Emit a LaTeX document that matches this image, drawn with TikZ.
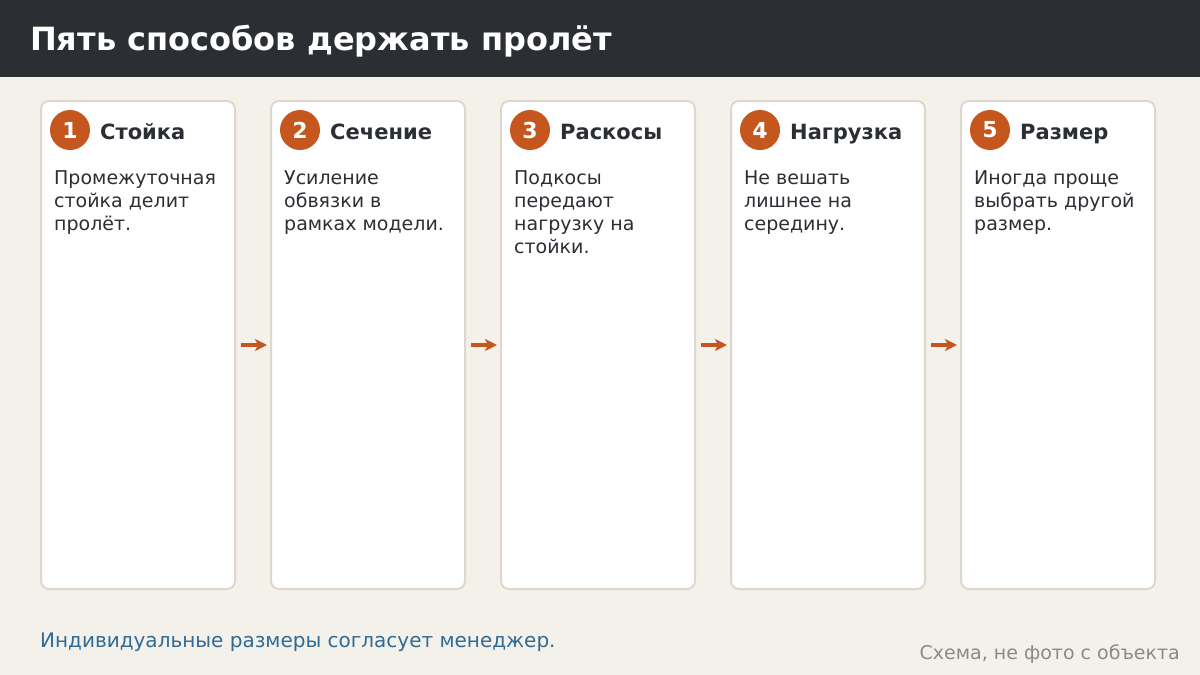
\documentclass[tikz,border=0pt]{standalone}
\usepackage{fontspec}
\setmainfont{DejaVu Sans}
\usepackage{tikz}
\usetikzlibrary{arrows.meta}
\definecolor{paper}{HTML}{F4F1EA}
\definecolor{ink}{HTML}{2B2E33}
\definecolor{rust}{HTML}{C4561E}
\definecolor{edge}{HTML}{DDD8CF}
\definecolor{note}{HTML}{2E6B98}
\definecolor{mute}{HTML}{8A8A8A}

\begin{document}
\begin{tikzpicture}[x=1pt,y=-1pt,
	card/.style={draw=edge, line width=2pt, fill=white, rounded corners=8pt, minimum width=194pt, minimum height=488pt, inner sep=0pt},
	badge/.style={circle, fill=rust, minimum size=40pt, inner sep=0pt, text=white, font=\fontsize{22}{22}\selectfont\bfseries},
	head/.style={anchor=base west, inner sep=0pt, text=ink, font=\fontsize{21}{21}\selectfont\bfseries},
	body/.style={anchor=north west, inner sep=0pt, align=left, text=ink, font=\fontsize{19}{23}\selectfont},
	flow/.style={draw=rust, line width=3.5pt, -{Stealth[length=12pt,width=12pt,inset=3pt]}, shorten <=5pt, shorten >=3pt}]
% page and header bar
\useasboundingbox (0,0) rectangle (1200,675);
\fill[paper] (0,0) rectangle (1200,675);
\fill[ink] (0,0) rectangle (1200,77);
\node[anchor=base west, inner sep=0pt, text=white, font=\fontsize{32}{32}\selectfont\bfseries] (title) at (30,50) {Пять способов держать пролёт};

% draw cards
\node[card] (c1) at (138,345) {};
\node[card] (c2) at (368,345) {};
\node[card] (c3) at (598,345) {};
\node[card] (c4) at (828,345) {};
\node[card] (c5) at (1058,345) {};

% draw badges and headings
\node[badge] (b1) at (70,130) {1};
\node[head] (h1) at (100,139) {Стойка};
\node[badge] (b2) at (300,130) {2};
\node[head] (h2) at (330,139) {Сечение};
\node[badge] (b3) at (530,130) {3};
\node[head] (h3) at (560,139) {Раскосы};
\node[badge] (b4) at (760,130) {4};
\node[head] (h4) at (790,139) {Нагрузка};
\node[badge] (b5) at (990,130) {5};
\node[head] (h5) at (1020,139) {Размер};

% draw texts
\node[body] (t1) at (54,170) {Промежуточная\\стойка делит\\пролёт.};
\node[body] (t2) at (284,170) {Усиление\\обвязки в\\рамках модели.};
\node[body] (t3) at (514,170) {Подкосы\\передают\\нагрузку на\\стойки.};
\node[body] (t4) at (744,170) {Не вешать\\лишнее на\\середину.};
\node[body] (t5) at (974,170) {Иногда проще\\выбрать другой\\размер.};

% draw arrows
\draw[flow] (c1.east) -- (c2.west);
\draw[flow] (c2.east) -- (c3.west);
\draw[flow] (c3.east) -- (c4.west);
\draw[flow] (c4.east) -- (c5.west);

% footer
\node[anchor=base west, inner sep=0pt, text=note, font=\fontsize{20}{20}\selectfont] (foot) at (40,647) {Индивидуальные размеры согласует менеджер.};
\node[anchor=base east, inner sep=0pt, text=mute, font=\fontsize{19}{19}\selectfont] (mark) at (1180,659) {Схема, не фото с объекта};
\end{tikzpicture}
\end{document}
